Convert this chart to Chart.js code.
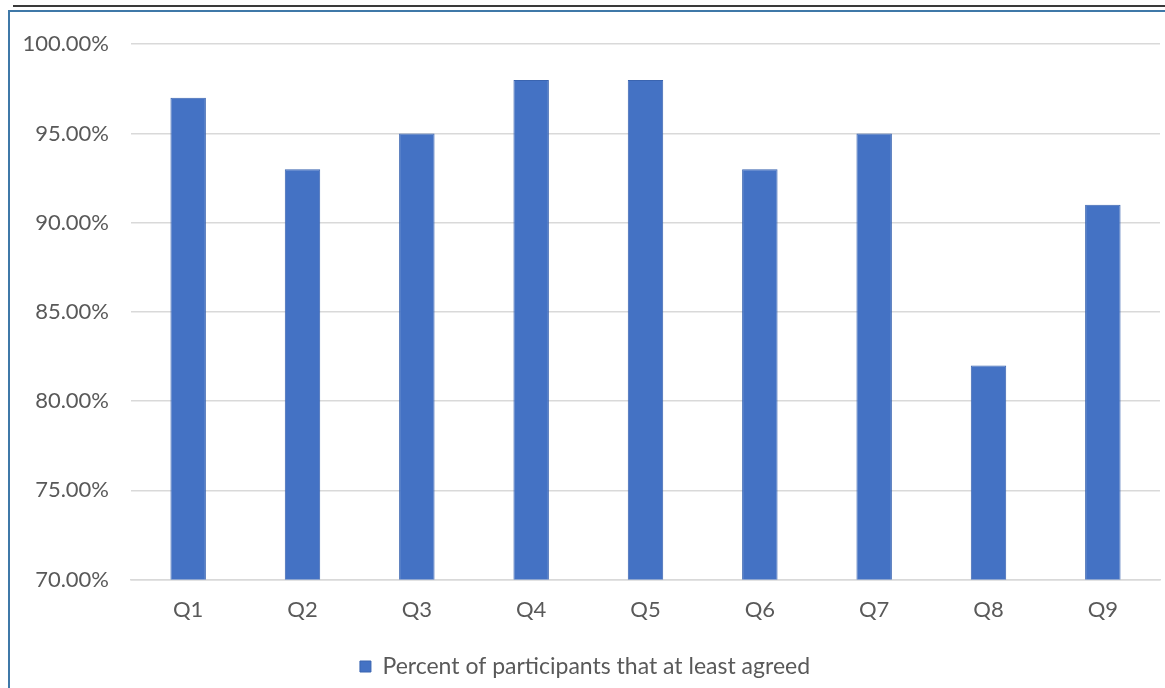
<!DOCTYPE html>
<html>
<head>
<meta charset="utf-8">
<script src="https://cdn.jsdelivr.net/npm/chart.js@4/dist/chart.umd.min.js"></script>
<style>
  body { margin: 0; width: 1165px; height: 688px; background: #fff; overflow: hidden; position: relative; }
  .rule { position: absolute; left: 13px; right: 0; top: 5px; height: 2px; background: #3a3a3a; }
  .frame { position: absolute; left: 8px; right: 0; top: 10px; bottom: 0; border-top: 2px solid #3f78a8; border-left: 2px solid #3f78a8; }
  .wrap { position: absolute; left: 10px; top: 9px; width: 1155px; height: 679px; }
</style>
</head>
<body>
<div class="rule"></div>
<div class="frame"></div>
<div class="wrap"><canvas id="chart"></canvas></div>
<script>
const categories = ['Q1', 'Q2', 'Q3', 'Q4', 'Q5', 'Q6', 'Q7', 'Q8', 'Q9']
const agreed = [97, 93, 95, 98, 98, 93, 95, 82, 91] // percent
const seriesName = 'Percent of participants that at least agreed'

const textColor = '#595959'
const font = { family: 'Lato, "Open Sans", sans-serif', size: 22 }

new Chart(document.getElementById('chart'), {
    type: 'bar',
    data: {
        labels: categories,
        datasets: [{
            label: seriesName,
            data: agreed,
            backgroundColor: '#4472c4',
            borderColor: '#3a64b0',
            borderWidth: 1,
            categoryPercentage: 0.31,
            barPercentage: 1
        }]
    },
    options: {
        responsive: true,
        maintainAspectRatio: false,
        animation: false,
        layout: { padding: { left: 0, right: 5, top: 18, bottom: 0 } },
        plugins: {
            tooltip: { enabled: false },
            legend: {
                position: 'bottom',
                labels: { color: textColor, font: { family: font.family, size: 23 }, boxWidth: 11, boxHeight: 11, padding: 15 }
            }
        },
        scales: {
            x: {
                grid: { display: false, drawTicks: false },
                border: { color: '#d9d9d9', width: 1.5 },
                ticks: { color: textColor, font: font, padding: 17 }
            },
            y: {
                min: 70,
                max: 100,
                ticks: {
                    stepSize: 5,
                    color: textColor,
                    font: font,
                    padding: 22,
                    callback: v => v.toFixed(2) + '%'
                },
                grid: { color: '#d9d9d9', lineWidth: 1.5, drawTicks: false },
                border: { display: false },
                afterFit: axis => { axis.width = 121 }
            }
        }
    }
})
</script>
</body>
</html>
